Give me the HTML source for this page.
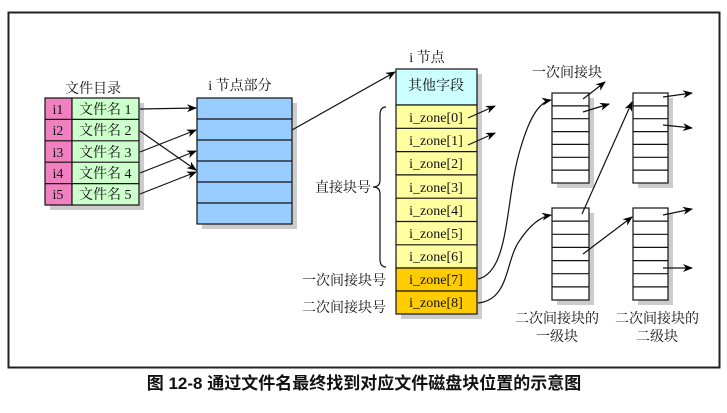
<!DOCTYPE html>
<html><head><meta charset="utf-8"><style>
body{margin:0;background:#fff}
svg text{font-family:"Liberation Serif","Noto Serif CJK SC",serif;font-size:14px;fill:#111}
</style></head><body>
<svg width="727" height="408" viewBox="0 0 727 408" xmlns="http://www.w3.org/2000/svg">
<defs>
<marker id="a" markerWidth="10" markerHeight="8" refX="9" refY="4" orient="auto" markerUnits="userSpaceOnUse">
<path d="M0,0 L10,4 L0,8 L3,4 z" fill="#000"/></marker>
</defs>
<rect x="8.5" y="12.5" width="711" height="355" fill="#fff" stroke="#222" stroke-width="2"/>

<text x="93" y="93" text-anchor="middle">文件目录</text>
<rect x="50" y="103" width="94" height="107" fill="#ccc"/>
<g stroke="#111" stroke-width="1.2">
<rect x="45" y="98" width="27" height="107" fill="#f080c0"/>
<rect x="72" y="98" width="67" height="107" fill="#ccffcc"/>
<line x1="45" y1="119.4" x2="139" y2="119.4"/><line x1="45" y1="140.8" x2="139" y2="140.8"/>
<line x1="45" y1="162.2" x2="139" y2="162.2"/><line x1="45" y1="183.6" x2="139" y2="183.6"/>
</g>
<g>
<text x="58" y="114" text-anchor="middle">i1</text><text x="58" y="135" text-anchor="middle">i2</text>
<text x="58" y="157" text-anchor="middle">i3</text><text x="58" y="178" text-anchor="middle">i4</text>
<text x="58" y="199" text-anchor="middle">i5</text>
<text x="79" y="114">文件名 1</text><text x="79" y="135">文件名 2</text>
<text x="79" y="157">文件名 3</text><text x="79" y="178">文件名 4</text>
<text x="79" y="199">文件名 5</text>
</g>

<text x="240" y="90" text-anchor="middle">i 节点部分</text>
<rect x="202" y="103" width="95" height="126" fill="#ccc"/>
<g stroke="#111" stroke-width="1.2" fill="#99ccff">
<rect x="197" y="98" width="95" height="126"/>
<line x1="197" y1="119" x2="292" y2="119"/><line x1="197" y1="140" x2="292" y2="140"/>
<line x1="197" y1="161" x2="292" y2="161"/><line x1="197" y1="182" x2="292" y2="182"/>
<line x1="197" y1="203" x2="292" y2="203"/>
</g>
<g stroke="#111" stroke-width="1.2" fill="none" marker-end="url(#a)">
<line x1="140" y1="109" x2="196" y2="108"/>
<line x1="140" y1="131" x2="196" y2="170"/>
<line x1="140" y1="152" x2="196" y2="130"/>
<line x1="140" y1="173" x2="196" y2="151"/>
<line x1="140" y1="194" x2="196" y2="172"/>
<line x1="292" y1="130" x2="395" y2="72"/>
</g>

<text x="427" y="62" text-anchor="middle">i 节点</text>
<rect x="401" y="74" width="81" height="245" fill="#ccc"/>
<g stroke="#111" stroke-width="1.2">
<rect x="396" y="69" width="81" height="36" fill="#ccffff"/>
<rect x="396" y="105" width="81" height="163" fill="#ffffa0"/>
<rect x="396" y="268" width="81" height="46" fill="#ffcc00"/>
<line x1="396" y1="128.3" x2="477" y2="128.3"/><line x1="396" y1="151.6" x2="477" y2="151.6"/>
<line x1="396" y1="174.9" x2="477" y2="174.9"/><line x1="396" y1="198.2" x2="477" y2="198.2"/>
<line x1="396" y1="221.5" x2="477" y2="221.5"/><line x1="396" y1="244.8" x2="477" y2="244.8"/>
<line x1="396" y1="291" x2="477" y2="291"/>
</g>
<text x="436" y="90" text-anchor="middle">其他字段</text>
<g text-anchor="middle">
<text x="436" y="122">i_zone[0]</text><text x="436" y="145">i_zone[1]</text>
<text x="436" y="168">i_zone[2]</text><text x="436" y="192">i_zone[3]</text>
<text x="436" y="215">i_zone[4]</text><text x="436" y="238">i_zone[5]</text>
<text x="436" y="261">i_zone[6]</text><text x="436" y="284">i_zone[7]</text>
<text x="436" y="307">i_zone[8]</text>
</g>
<path d="M386,107 Q380,107 380,115 L380,180 Q380,187 373,187 Q380,187 380,194 L380,259 Q380,267 386,267" fill="none" stroke="#111" stroke-width="1.2"/>
<text x="371" y="192" text-anchor="end">直接块号</text>
<text x="386" y="285" text-anchor="end">一次间接块号</text>
<text x="386" y="312" text-anchor="end">二次间接块号</text>

<g stroke="#111" stroke-width="1.2" fill="#fff">
<rect x="557" y="98" width="37" height="90" fill="#ccc" stroke="none"/>
<rect x="557" y="213" width="37" height="92" fill="#ccc" stroke="none"/>
<rect x="638" y="98" width="35" height="90" fill="#ccc" stroke="none"/>
<rect x="638" y="213" width="35" height="92" fill="#ccc" stroke="none"/>
<rect x="552" y="93" width="37" height="90"/>
<rect x="552" y="208" width="37" height="92"/>
<rect x="633" y="93" width="35" height="90"/>
<rect x="633" y="208" width="35" height="92"/>
<path d="M552,105.9H589M552,118.7H589M552,131.6H589M552,144.4H589M552,157.3H589M552,170.1H589
M552,221.1H589M552,234.3H589M552,247.4H589M552,260.6H589M552,273.7H589M552,286.9H589
M633,105.9H668M633,118.7H668M633,131.6H668M633,144.4H668M633,157.3H668M633,170.1H668
M633,221.1H668M633,234.3H668M633,247.4H668M633,260.6H668M633,273.7H668M633,286.9H668"/>
</g>
<text x="567" y="77" text-anchor="middle">一次间接块</text>
<text x="557" y="323" text-anchor="middle">二次间接块的</text>
<text x="557" y="341" text-anchor="middle">一级块</text>
<text x="657" y="323" text-anchor="middle">二次间接块的</text>
<text x="657" y="341" text-anchor="middle">二级块</text>

<g stroke="#111" stroke-width="1.2" fill="none" marker-end="url(#a)">
<line x1="468" y1="118" x2="495" y2="106"/>
<line x1="468" y1="145" x2="495" y2="133"/>
<line x1="583" y1="99" x2="605" y2="82"/>
<line x1="583" y1="112" x2="609" y2="104"/>
<line x1="663" y1="97" x2="692" y2="93"/>
<line x1="663" y1="125" x2="692" y2="128"/>
<line x1="663" y1="215" x2="692" y2="209"/>
<line x1="663" y1="268" x2="692" y2="268"/>
<line x1="582" y1="214" x2="632" y2="102"/>
<line x1="583" y1="254" x2="632" y2="217"/>
<path d="M478,279 C510,272 505,200 520,150 C530,115 540,102 551,100"/>
<path d="M478,303 C510,300 505,260 520,240 C530,225 540,217 551,215"/>
</g>

<text x="364" y="389" text-anchor="middle" style="font-family:'Liberation Sans','Noto Sans CJK SC',sans-serif;font-size:17px;font-weight:bold">图 12-8 通过文件名最终找到对应文件磁盘块位置的示意图</text>
</svg>
</body></html>
